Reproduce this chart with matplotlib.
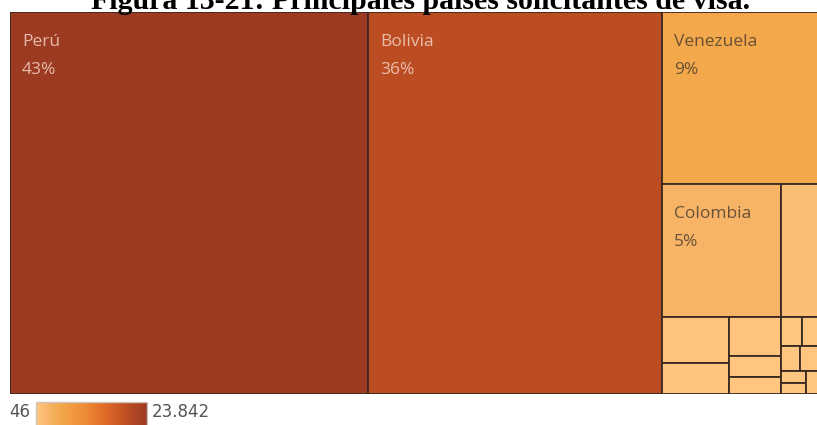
import matplotlib
matplotlib.use("Agg")
import matplotlib.pyplot as plt
from matplotlib.colors import LinearSegmentedColormap, Normalize
from matplotlib.cm import ScalarMappable
from matplotlib.patches import Rectangle

# Solicitudes de visa por país (las cuatro mayores con nombre)
paises = ["Perú", "Bolivia", "Venezuela", "Colombia"]
solicitudes = [23842, 19559, 5210, 2751]
# resto de países, sin etiqueta
otros = [1255, 551, 355, 350, 187, 152, 110, 170, 86, 151, 54, 46, 111]

valores = solicitudes + otros
total = sum(valores)
vmin, vmax = min(valores), max(valores)

# anidado de la distribución: cada lista parte alternando eje x / eje y
estructura = [0, 1,
              [2,
               [3, 4],
               [[5, 6],
                [7, 8, 9],
                [[10, 11], [12, 13], [[14, 15], 16]]]]]


def suma(nodo):
    if isinstance(nodo, int):
        return valores[nodo]
    return sum(suma(n) for n in nodo)


def repartir(nodo, x, y, w, h, en_x, out):
    if isinstance(nodo, int):
        out[nodo] = (x, y, w, h)
        return
    s = suma(nodo)
    pos = 0.0
    for n in nodo:
        f = suma(n) / s
        if en_x:
            repartir(n, x + pos * w, y, w * f, h, not en_x, out)
        else:
            repartir(n, x, y + pos * h, w, h * f, not en_x, out)
        pos += f


rects = {}
repartir(estructura, 0.0, 0.0, 1.0, 1.0, True, rects)

cmap = LinearSegmentedColormap.from_list("naranja", [
    (0.00, "#ffc682"), (0.11, "#f7b468"), (0.22, "#f2a74a"),
    (0.45, "#ee8a36"), (0.62, "#e06a27"), (0.82, "#bc4d23"),
    (1.00, "#9c3a22")])
norm = Normalize(vmin, vmax)

W, H = 817, 425
fig = plt.figure(figsize=(W / 100, H / 100), dpi=100)

# el marco sigue más allá del borde derecho
ax = fig.add_axes([10 / W, 31.5 / H, 825 / W, 382 / H])
ax.set_xlim(0, 1)
ax.set_ylim(1, 0)
ax.axis("off")

for i, (x, y, w, h) in rects.items():
    ax.add_patch(Rectangle((x, y), w, h, facecolor=cmap(norm(valores[i])),
                           edgecolor="#3a2a20", linewidth=1.3))

px = 1 / 825
py = 1 / 382
for i, nombre in enumerate(paises):
    x, y, w, h = rects[i]
    pct = f"{round(valores[i] / total * 100)}%"
    oscuro = norm(valores[i]) > 0.5
    col = "#f4d2c4" if oscuro else "#5a4632"
    alpha = 0.85 if oscuro else 0.9
    ax.text(x + 12 * px, y + 34 * py, nombre, fontsize=12.5, family="Open Sans",
            color=col, alpha=alpha, va="baseline", ha="left")
    ax.text(x + 12 * px, y + 62 * py, pct, fontsize=12.5, family="Open Sans",
            color=col, alpha=alpha, va="baseline", ha="left")

# título, recortado por arriba
fig.text(421 / W, 1 - 9 / H,
         "Figura 13-21: Principales países solicitantes de visa.",
         fontsize=21.5, family="Liberation Serif", fontweight="bold",
         ha="center", va="baseline", color="black")

# leyenda de color
cax = fig.add_axes([36 / W, -5 / H, 111 / W, 28 / H])
cb = fig.colorbar(ScalarMappable(norm=norm, cmap=cmap), cax=cax,
                  orientation="horizontal")
cb.set_ticks([])
cb.outline.set_edgecolor("#cfc6bd")
cb.outline.set_linewidth(1.0)
fig.text(30 / W, 8 / H, f"{vmin}", fontsize=12, color="#555555",
         ha="right", va="baseline")
fig.text(152 / W, 8 / H, f"{vmax:,}".replace(",", "."), fontsize=12,
         color="#555555", ha="left", va="baseline")

fig.savefig("out.png", dpi=100)
